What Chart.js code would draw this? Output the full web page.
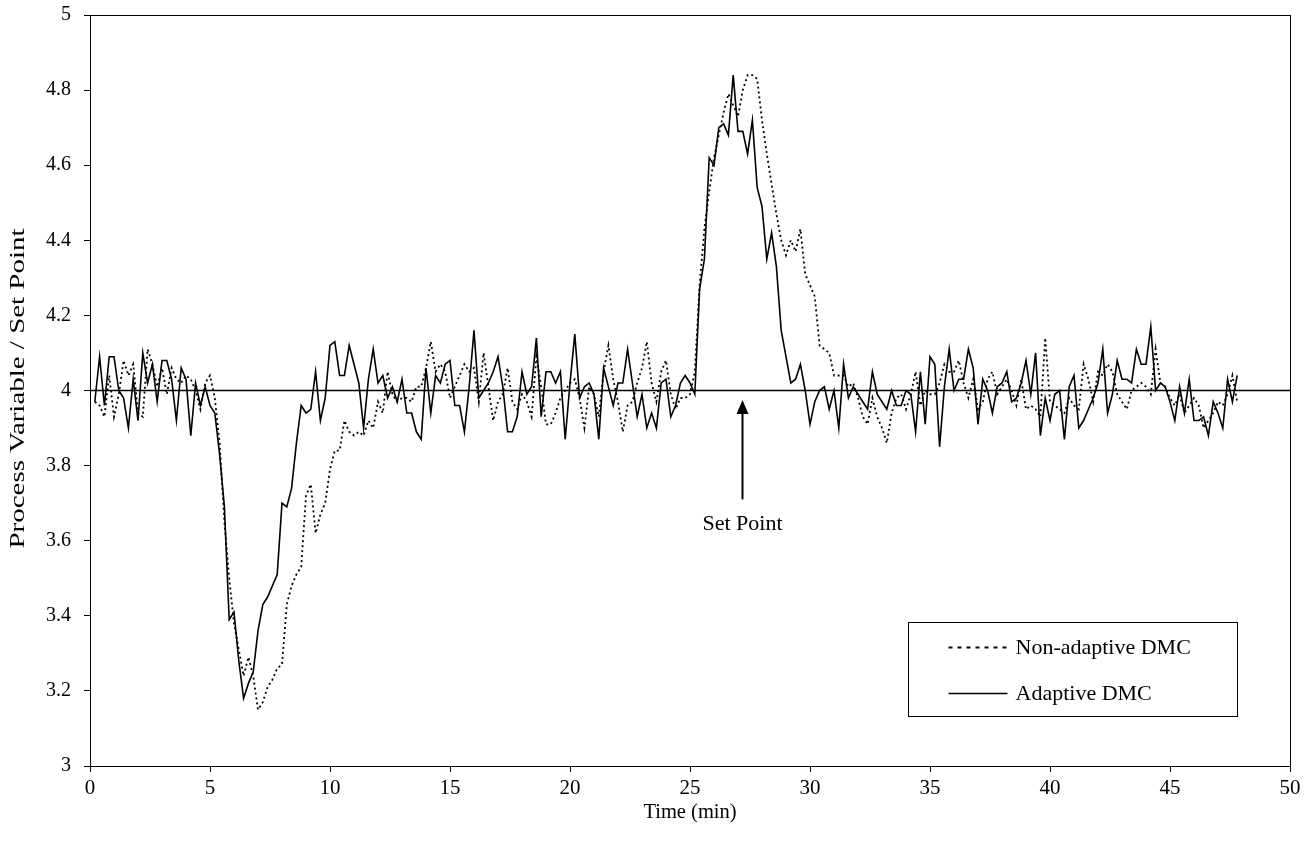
<!DOCTYPE html>
<html>
<head>
<meta charset="utf-8">
<script src="https://cdn.jsdelivr.net/npm/chart.js@4.4.1/dist/chart.umd.min.js"></script>
<style>
  html, body { margin: 0; padding: 0; background: #fff; }
  #wrap { width: 1310px; height: 850px; position: relative; }
</style>
</head>
<body>
<div id="wrap"><canvas id="c"></canvas></div>
<script>
// ---- Data (sampled every 0.2 min, starting at 0.2 min; one row per minute) ----
const SAMPLE_START = 0.2;
const SAMPLE_STEP = 0.2;

const nonAdaptive = [
  3.97, 3.96, 3.93, 4.04, 3.93,
  3.99, 4.08, 4.04, 4.07, 3.94,
  3.93, 4.11, 4.07, 4.01, 4.06,
  3.99, 4.06, 4.03, 4.02, 4.04,
  4.03, 4.00, 3.95, 4.02, 4.04,
  3.98, 3.86, 3.65, 3.50, 3.38,
  3.31, 3.24, 3.29, 3.24, 3.15,
  3.17, 3.21, 3.23, 3.26, 3.27,
  3.43, 3.48, 3.51, 3.53, 3.72,
  3.75, 3.62, 3.67, 3.70, 3.79,
  3.84, 3.84, 3.92, 3.89, 3.88,
  3.89, 3.88, 3.92, 3.90, 3.97,
  3.94, 4.05, 3.99, 3.97, 3.98,
  3.98, 3.97, 4.01, 4.01, 4.06,
  4.13, 4.05, 4.07, 4.05, 3.98,
  4.01, 4.04, 4.07, 4.05, 4.06,
  3.97, 4.10, 4.01, 3.92, 3.97,
  3.99, 4.06, 3.97, 3.95, 3.99,
  3.97, 3.93, 4.09, 4.01, 3.91,
  3.91, 3.94, 3.98, 4.00, 4.02,
  4.03, 3.98, 3.90, 4.01, 3.99,
  3.93, 4.05, 4.12, 4.03, 3.97,
  3.89, 3.96, 3.97, 4.02, 4.06,
  4.13, 4.02, 3.97, 4.05, 4.08,
  3.99, 3.95, 3.98, 3.98, 3.99,
  4.05, 4.28, 4.43, 4.53, 4.62,
  4.68, 4.74, 4.79, 4.76, 4.73,
  4.80, 4.84, 4.84, 4.83, 4.72,
  4.63, 4.55, 4.47, 4.40, 4.36,
  4.40, 4.37, 4.43, 4.31, 4.28,
  4.25, 4.12, 4.11, 4.10, 4.04,
  4.04, 4.04, 4.01, 4.02, 3.98,
  3.93, 3.91, 3.98, 3.93, 3.90,
  3.86, 3.94, 3.98, 3.99, 3.95,
  3.99, 4.05, 3.96, 4.00, 3.99,
  3.99, 4.02, 4.07, 4.05, 4.05,
  4.08, 4.02, 3.98, 4.03, 3.95,
  3.97, 4.03, 4.05, 3.99, 4.01,
  4.03, 4.00, 3.96, 4.03, 3.95,
  3.96, 3.95, 3.93, 4.14, 3.97,
  3.96, 3.95, 3.94, 3.98, 3.96,
  3.95, 4.07, 4.03, 3.97, 4.05,
  4.04, 4.07, 4.05, 3.99, 3.97,
  3.95, 4.00, 4.01, 4.02, 4.01,
  3.99, 4.11, 4.02, 4.01, 3.98,
  3.96, 3.99, 3.94, 3.96, 3.98,
  3.96, 3.90, 3.92, 3.94, 3.97,
  3.96, 3.99, 4.04, 3.97
];

const adaptive = [
  3.97, 4.09, 3.96, 4.09, 4.09,
  4.00, 3.98, 3.90, 4.03, 3.92,
  4.10, 4.02, 4.07, 3.97, 4.08,
  4.08, 4.03, 3.92, 4.06, 4.03,
  3.88, 4.02, 3.96, 4.01, 3.96,
  3.94, 3.83, 3.69, 3.39, 3.41,
  3.28, 3.18, 3.22, 3.25, 3.36,
  3.43, 3.45, 3.48, 3.51, 3.70,
  3.69, 3.74, 3.86, 3.96, 3.94,
  3.95, 4.05, 3.92, 3.98, 4.12,
  4.13, 4.04, 4.04, 4.12, 4.07,
  4.02, 3.90, 4.03, 4.11, 4.02,
  4.04, 3.98, 4.01, 3.97, 4.03,
  3.94, 3.94, 3.89, 3.87, 4.06,
  3.94, 4.04, 4.02, 4.07, 4.08,
  3.96, 3.96, 3.89, 4.01, 4.16,
  3.98, 4.00, 4.02, 4.05, 4.09,
  4.01, 3.89, 3.89, 3.93, 4.05,
  3.99, 4.01, 4.14, 3.93, 4.05,
  4.05, 4.02, 4.05, 3.87, 4.02,
  4.15, 3.98, 4.01, 4.02, 3.99,
  3.87, 4.06, 4.01, 3.96, 4.02,
  4.02, 4.11, 4.02, 3.93, 3.99,
  3.90, 3.94, 3.90, 4.02, 4.03,
  3.93, 3.96, 4.02, 4.04, 4.02,
  3.99, 4.27, 4.35, 4.62, 4.60,
  4.70, 4.71, 4.68, 4.84, 4.69,
  4.69, 4.63, 4.72, 4.54, 4.49,
  4.35, 4.42, 4.33, 4.16, 4.09,
  4.02, 4.03, 4.07, 4.00, 3.91,
  3.97, 4.00, 4.01, 3.95, 4.00,
  3.90, 4.07, 3.98, 4.01, 3.99,
  3.97, 3.95, 4.05, 3.99, 3.97,
  3.95, 4.00, 3.96, 3.96, 4.00,
  3.99, 3.89, 4.05, 3.91, 4.09,
  4.07, 3.85, 4.01, 4.11, 4.00,
  4.03, 4.03, 4.11, 4.06, 3.91,
  4.03, 4.00, 3.94, 4.01, 4.02,
  4.05, 3.97, 3.98, 4.02, 4.08,
  3.99, 4.10, 3.88, 3.98, 3.92,
  3.99, 4.00, 3.87, 4.01, 4.04,
  3.90, 3.92, 3.95, 3.98, 4.02,
  4.11, 3.94, 3.99, 4.08, 4.03,
  4.03, 4.02, 4.11, 4.07, 4.07,
  4.17, 4.00, 4.02, 4.01, 3.97,
  3.92, 4.01, 3.94, 4.03, 3.92,
  3.92, 3.93, 3.88, 3.97, 3.94,
  3.90, 4.03, 3.97, 4.04
];

const SET_POINT = 4;
const X_TICKS = [0, 5, 10, 15, 20, 25, 30, 35, 40, 45, 50];
const Y_TICKS = [3, 3.2, 3.4, 3.6, 3.8, 4, 4.2, 4.4, 4.6, 4.8, 5];
const SERIES_LABELS = ['Non-adaptive DMC', 'Adaptive DMC'];
const X_TITLE = 'Time (min)';
const Y_TITLE = 'Process Variable / Set Point';
const ANNOT_TEXT = 'Set Point';
const ANNOT_X = 27.17;      // time where the arrow points
const ANNOT_TIP = 3.975;    // arrow tip value
const ANNOT_TAIL = 3.71;    // arrow tail value
const ANNOT_LABEL_Y = 3.645;

// ---- Build library structures ----
const toPoints = arr => arr.map((v, i) => ({ x: +(SAMPLE_START + i * SAMPLE_STEP).toFixed(2), y: v }));
const FONT = "'Liberation Serif', 'Times New Roman', serif";

const frameAndAnnot = {
  id: 'frameAndAnnot',
  afterDatasetsDraw(chart) {
    const { ctx, chartArea: a, scales: { x, y } } = chart;
    ctx.save();
    // plot frame
    ctx.strokeStyle = '#000';
    ctx.lineWidth = 1;
    ctx.strokeRect(Math.round(a.left) + 0.5, Math.round(a.top) + 0.5,
                   Math.round(a.right - a.left), Math.round(a.bottom - a.top));
    // arrow
    const ax = Math.round(x.getPixelForValue(ANNOT_X)) + 0.5;
    const tip = y.getPixelForValue(ANNOT_TIP);
    const tail = y.getPixelForValue(ANNOT_TAIL);
    ctx.lineWidth = 2;
    ctx.beginPath();
    ctx.moveTo(ax, tail);
    ctx.lineTo(ax, tip + 10);
    ctx.stroke();
    ctx.fillStyle = '#000';
    ctx.beginPath();
    ctx.moveTo(ax, tip);
    ctx.lineTo(ax - 6, tip + 14);
    ctx.lineTo(ax + 6, tip + 14);
    ctx.closePath();
    ctx.fill();
    // label
    ctx.font = '22px ' + FONT;
    ctx.textAlign = 'center';
    ctx.textBaseline = 'middle';
    ctx.fillText(ANNOT_TEXT, ax, y.getPixelForValue(ANNOT_LABEL_Y));
    // legend box
    const bw = 329, bh = 94;
    const bx = Math.round(a.right - 53 - bw) + 0.5;
    const by = Math.round(a.bottom - 50 - bh) + 0.5;
    ctx.fillStyle = '#fff';
    ctx.fillRect(bx, by, bw, bh);
    ctx.lineWidth = 1;
    ctx.strokeRect(bx, by, bw, bh);
    const ds = chart.data.datasets;
    const rows = [by + 25, by + 71];
    [0, 1].forEach(i => {
      const d = ds[i];
      ctx.strokeStyle = '#000';
      ctx.lineWidth = d.borderWidth;
      ctx.setLineDash(d.borderDash ? [4, 5] : []);
      ctx.beginPath();
      ctx.moveTo(bx + 40, rows[i]);
      ctx.lineTo(bx + 99, rows[i]);
      ctx.stroke();
      ctx.setLineDash([]);
      ctx.fillStyle = '#000';
      ctx.font = '22px ' + FONT;
      ctx.textAlign = 'left';
      ctx.textBaseline = 'middle';
      ctx.fillText(d.label, bx + 107, rows[i] + 1);
    });
    // y-axis title (stretched along its baseline like the reference)
    ctx.font = '21px ' + FONT;
    const w = ctx.measureText(Y_TITLE).width;
    ctx.translate(18, (a.top + a.bottom) / 2 - 2);
    ctx.rotate(-Math.PI / 2);
    ctx.scale(320 / w, 1);
    ctx.textAlign = 'center';
    ctx.textBaseline = 'middle';
    ctx.fillText(Y_TITLE, 0, 0);
    ctx.restore();
  }
};

new Chart(document.getElementById('c'), {
  type: 'line',
  data: {
    datasets: [
      { label: SERIES_LABELS[0], data: toPoints(nonAdaptive), borderColor: '#000',
        borderWidth: 1.8, borderDash: [2, 3], pointRadius: 0, tension: 0, fill: false },
      { label: SERIES_LABELS[1], data: toPoints(adaptive), borderColor: '#000',
        borderWidth: 1.6, pointRadius: 0, tension: 0, fill: false },
      { label: 'Set Point', data: [{ x: X_TICKS[0], y: SET_POINT }, { x: X_TICKS[X_TICKS.length - 1], y: SET_POINT }],
        borderColor: '#000', borderWidth: 1.6, pointRadius: 0, fill: false }
    ]
  },
  options: {
    responsive: true,
    maintainAspectRatio: false,
    animation: false,
    events: [],
    layout: { autoPadding: false, padding: { top: 15, right: 20, bottom: 0, left: 0 } },
    plugins: { legend: { display: false }, tooltip: { enabled: false } },
    scales: {
      x: {
        type: 'linear', min: 0, max: 50,
        afterBuildTicks: s => { s.ticks = X_TICKS.map(v => ({ value: v })); },
        afterFit: s => { s.height = 84; s.paddingLeft = 0; s.paddingRight = 0; },
        border: { display: true, color: '#000', width: 1 },
        grid: { display: true, drawOnChartArea: false, drawTicks: true, tickLength: 6, color: '#000' },
        ticks: { color: '#000', font: { family: FONT, size: 21 }, padding: 4, maxRotation: 0 },
        title: { display: true, text: X_TITLE, color: '#000', font: { family: FONT, size: 20.5 }, padding: { top: 0, bottom: 25 } }
      },
      y: {
        type: 'linear', min: 3, max: 5,
        afterBuildTicks: s => { s.ticks = Y_TICKS.map(v => ({ value: v })); },
        afterFit: s => { s.width = 90; s.paddingTop = 0; s.paddingBottom = 0; },
        border: { display: true, color: '#000', width: 1 },
        grid: { display: true, drawOnChartArea: false, drawTicks: true, tickLength: 6, color: '#000' },
        ticks: { color: '#000', font: { family: FONT, size: 20 }, padding: 13,
                 callback: v => String(v) },
        title: { display: false, text: Y_TITLE }
      }
    }
  },
  plugins: [frameAndAnnot]
});
</script>
</body>
</html>
